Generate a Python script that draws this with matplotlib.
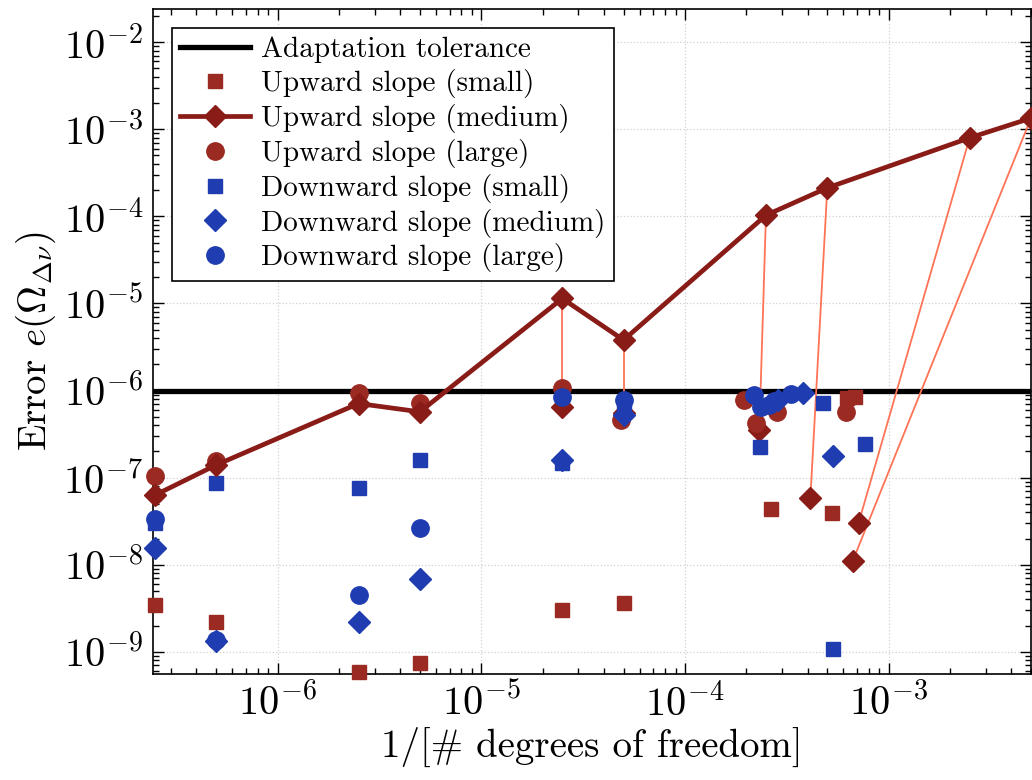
import matplotlib
matplotlib.use('Agg')
import matplotlib.pyplot as plt
from matplotlib.ticker import FixedLocator, NullFormatter

plt.rcParams['font.family'] = 'serif'
plt.rcParams['font.serif'] = ['cmr10', 'DejaVu Serif']
plt.rcParams['mathtext.fontset'] = 'cm'
plt.rcParams['axes.formatter.use_mathtext'] = True
plt.rcParams['axes.unicode_minus'] = False

# 1/[# dof] on the x axis, error on the y axis
tolerance = 1e-6

# upward slope (medium): uniform refinement, drawn as the thick line
um_line_x = [2.5e-7, 5e-7, 2.5e-6, 5e-6, 2.5e-5, 5e-5, 2.5e-4, 5e-4, 2.5e-3, 5e-3]
um_line_y = [6.3e-8, 1.40e-7, 7.1e-7, 5.7e-7, 1.14e-5, 3.8e-6, 1.03e-4, 2.12e-4, 7.96e-4, 1.34e-3]

# upward slope (medium): adapted results, joined to their start point
um_adapt_from = [4, 5, 6, 7, 8, 9]
um_adapt_x = [2.5e-5, 5e-5, 2.32e-4, 4.13e-4, 7.13e-4, 6.67e-4]
um_adapt_y = [6.5e-7, 5.5e-7, 3.5e-7, 5.8e-8, 3.04e-8, 1.11e-8]

us_x = [2.5e-7, 5e-7, 2.5e-6, 5e-6, 2.5e-5, 5e-5, 2.64e-4, 5.28e-4, 6.28e-4, 6.83e-4]
us_y = [3.5e-9, 2.22e-9, 5.9e-10, 7.5e-10, 3.0e-9, 3.6e-9, 4.34e-8, 3.9e-8, 8.2e-7, 8.4e-7]

ul_x = [2.5e-7, 5e-7, 2.5e-6, 5e-6, 2.5e-5, 4.85e-5, 1.96e-4, 2.24e-4, 2.82e-4, 6.21e-4]
ul_y = [1.05e-7, 1.56e-7, 9.4e-7, 7.2e-7, 1.08e-6, 4.6e-7, 7.8e-7, 4.2e-7, 5.7e-7, 5.7e-7]

ds_x = [2.5e-7, 5e-7, 2.5e-6, 5e-6, 2.5e-5, 5e-5, 2.33e-4, 4.78e-4, 7.66e-4, 5.36e-4]
ds_y = [3.0e-8, 8.6e-8, 7.7e-8, 1.59e-7, 1.47e-7, 6.5e-7, 2.25e-7, 7.2e-7, 2.43e-7, 1.08e-9]

dm_x = [2.5e-7, 5e-7, 2.5e-6, 5e-6, 2.5e-5, 5e-5, 2.85e-4, 3.81e-4, 5.33e-4]
dm_y = [1.55e-8, 1.32e-9, 2.19e-9, 6.9e-9, 1.6e-7, 5.2e-7, 7.8e-7, 9.35e-7, 1.79e-7]

dl_x = [2.5e-7, 5e-7, 2.5e-6, 5e-6, 2.5e-5, 5e-5, 2.19e-4, 2.36e-4, 2.6e-4, 2.75e-4, 3.3e-4]
dl_y = [3.33e-8, 1.37e-9, 4.5e-9, 2.62e-8, 8.4e-7, 7.8e-7, 8.9e-7, 6.5e-7, 6.8e-7, 7.6e-7, 9.1e-7]

x_decades = [-6, -5, -4, -3]
y_decades = [-9, -8, -7, -6, -5, -4, -3, -2]

red = '#9A2A22'
red_line = '#8A1C18'
blue = '#1F3CB0'
orange = '#FF7356'

fig = plt.figure(figsize=(10.32, 7.8), dpi=100)
ax = fig.add_axes([0.148, 0.1365, 0.851, 0.852])
ax.set_xscale('log')
ax.set_yscale('log')
xlim = (2.44e-7, 5.0e-3)
ylim = (5.65e-10, 2.4e-2)
ax.set_xlim(*xlim)
ax.set_ylim(*ylim)

ax.axhline(tolerance, color='black', lw=3.8, zorder=2, label='Adaptation tolerance')

for i, j in enumerate(um_adapt_from):
    ax.plot([um_line_x[j], um_adapt_x[i]], [um_line_y[j], um_adapt_y[i]],
            color=orange, lw=1.3, zorder=3)

ms = dict(linestyle='none', clip_on=False, zorder=4)
ax.plot(us_x, us_y, marker='s', ms=10.5, color=red, label='Upward slope (small)', **ms)
ax.plot(um_line_x, um_line_y, marker='D', ms=11, color=red_line, lw=3.4,
        clip_on=False, zorder=5, label='Upward slope (medium)')
ax.plot(um_adapt_x, um_adapt_y, marker='D', ms=11, color=red_line, **ms)
ax.plot(ul_x, ul_y, marker='o', ms=12.5, color=red, label='Upward slope (large)', **ms)
ax.plot(ds_x, ds_y, marker='s', ms=10.5, color=blue, label='Downward slope (small)', **ms)
ax.plot(dm_x, dm_y, marker='D', ms=11, color=blue, label='Downward slope (medium)', **ms)
ax.plot(dl_x, dl_y, marker='o', ms=12.5, color=blue, label='Downward slope (large)', **ms)


def minor_ticks(lo, hi):
    out = []
    for d in range(-11, 0):
        for m in range(2, 10):
            v = m * 10.0 ** d
            if lo <= v <= hi:
                out.append(v)
    return out


ax.xaxis.set_major_locator(FixedLocator([10.0 ** d for d in x_decades]))
ax.yaxis.set_major_locator(FixedLocator([10.0 ** d for d in y_decades]))
ax.xaxis.set_minor_locator(FixedLocator(minor_ticks(*xlim)))
ax.yaxis.set_minor_locator(FixedLocator(minor_ticks(*ylim)))
ax.xaxis.set_minor_formatter(NullFormatter())
ax.yaxis.set_minor_formatter(NullFormatter())

ax.grid(True, which='major', linestyle=':', color='0.82', lw=0.9)
ax.tick_params(which='both', direction='in', top=True, right=True, labelsize=29, width=1.0)
ax.tick_params(which='major', length=8, pad=7)
ax.tick_params(which='minor', length=4)
for s in ax.spines.values():
    s.set_linewidth(1.2)

ax.set_xlabel('1/[# degrees of freedom]', fontsize=28, labelpad=2)
ax.set_ylabel(r'Error $e(\Omega_{\Delta\nu})$', fontsize=28, labelpad=4)

leg = ax.legend(loc='upper left', bbox_to_anchor=(0.0216, 0.971), borderaxespad=0,
                fontsize=21, labelspacing=0.2, handlelength=2.4, handletextpad=0.35,
                borderpad=0.3, fancybox=False, framealpha=1, edgecolor='black')
leg.get_frame().set_linewidth(1.2)

fig.savefig('out.png', dpi=100)
